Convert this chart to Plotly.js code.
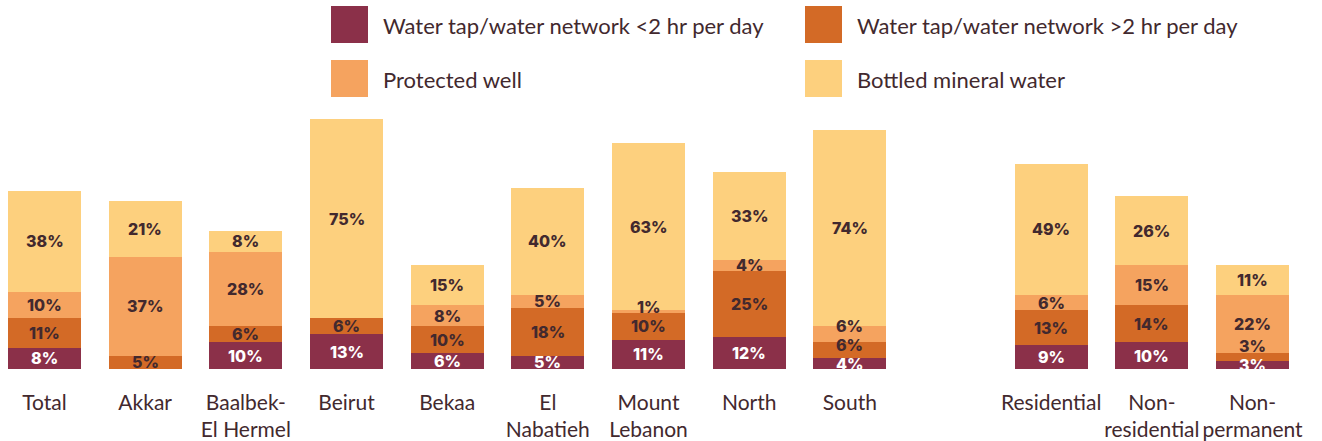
<!DOCTYPE html>
<html>
<head>
<meta charset="utf-8">
<script src="https://cdn.plot.ly/plotly-3.0.1.min.js"></script>
<style>html,body{margin:0;padding:0;background:#fff;}#chart{width:1322px;height:441px;}</style>
</head>
<body>
<div id="chart"></div>
<script>
// ---- data ----
const categories = ["Total", "Akkar", "Baalbek-<br>El Hermel", "Beirut", "Bekaa", "El<br>Nabatieh", "Mount<br>Lebanon", "North", "South", "Residential", "Non-<br>residential", "Non-<br>permanent"];
const seriesNames = ["Water tap/water network <2 hr per day", "Water tap/water network >2 hr per day", "Protected well", "Bottled mineral water"];
const tapLess2 = [8, 0, 10, 13, 6, 5, 11, 12, 4, 9, 10, 3];
const tapMore2 = [11, 5, 6, 6, 10, 18, 10, 25, 6, 13, 14, 3];
const protectedWell = [10, 37, 28, 0, 8, 5, 1, 4, 6, 6, 15, 22];
const bottledWater = [38, 21, 8, 75, 15, 40, 63, 33, 74, 49, 26, 11];
const groupBreakAfter = 8; // a blank slot separates regions from dwelling types

// ---- styling ----
const colors = ["#8b3049", "#d36a26", "#f5a35f", "#fdd07e"];
const labelColors = ["#ffffff", "#42292e", "#42292e", "#42292e"];
const textColor = "#42292e";
const series = [tapLess2, tapMore2, protectedWell, bottledWater];

const xPos = categories.map((c, i) => i > groupBreakAfter ? i + 1 : i);

const traces = series.map((vals, s) => ({
  type: "bar",
  x: xPos,
  y: vals,
  name: seriesNames[s],
  marker: {color: colors[s], line: {width: 0}},
  width: 0.725,
  hoverinfo: "skip",
  showlegend: false
}));

// plot geometry for label collision avoidance
const plotTop = 103, plotBottom = 369, yMax = 100;
const pxPerUnit = (plotBottom - plotTop) / yMax;
const minGap = 19;

const annotations = [];
categories.forEach((c, i) => {
  let base = 0;
  let prevPx = null;
  series.forEach((vals, s) => {
    const v = vals[i];
    if (v > 0) {
      const mid = base + v / 2;
      let px = mid * pxPerUnit;
      let shift = 0;
      if (prevPx !== null && px - prevPx < minGap) {
        shift = prevPx + minGap - px;
        px = prevPx + minGap;
      }
      prevPx = px;
      annotations.push({
        x: xPos[i], y: mid, xref: "x", yref: "y",
        text: v + "%", showarrow: false,
        yshift: shift,
        font: {family: "Inter, Lato, sans-serif", size: 16, weight: 800, color: labelColors[s]}
      });
    }
    base += v;
  });
});

// custom legend
const shapes = [];
const W = 1322;
const toPaperY = py => (plotBottom - py) / (plotBottom - plotTop);
const legendCols = [331, 805];
const legendRows = [6, 60];
seriesNames.forEach((n, s) => {
  const col = s % 2, row = Math.floor(s / 2);
  const x0 = legendCols[col], y0 = legendRows[row];
  shapes.push({type: "rect", xref: "paper", yref: "paper",
    x0: x0 / W, x1: (x0 + 37) / W, y0: toPaperY(y0 + 37), y1: toPaperY(y0),
    fillcolor: colors[s], line: {width: 0}});
  annotations.push({xref: "paper", yref: "paper", x: (x0 + 50) / W, y: toPaperY(y0 + 19),
    xanchor: "left", yanchor: "middle", showarrow: false, text: n,
    font: {family: "Lato, sans-serif", size: 22, color: textColor}});
});

const layout = {
  width: 1322, height: 441,
  margin: {l: 0, r: 0, t: plotTop, b: 441 - plotBottom},
  paper_bgcolor: "#ffffff", plot_bgcolor: "#ffffff",
  barmode: "stack",
  xaxis: {
    range: [-0.442, 12.69],
    tickmode: "array", tickvals: xPos, ticktext: categories,
    ticks: "", showgrid: false, zeroline: false, showline: false,
    ticklabelstandoff: 19,
    tickfont: {family: "Lato, sans-serif", size: 21, color: textColor}
  },
  yaxis: {range: [0, yMax], visible: false, showgrid: false, zeroline: false},
  annotations: annotations,
  shapes: shapes
};

Plotly.newPlot("chart", traces, layout, {displayModeBar: false, staticPlot: true});
</script>
</body>
</html>
